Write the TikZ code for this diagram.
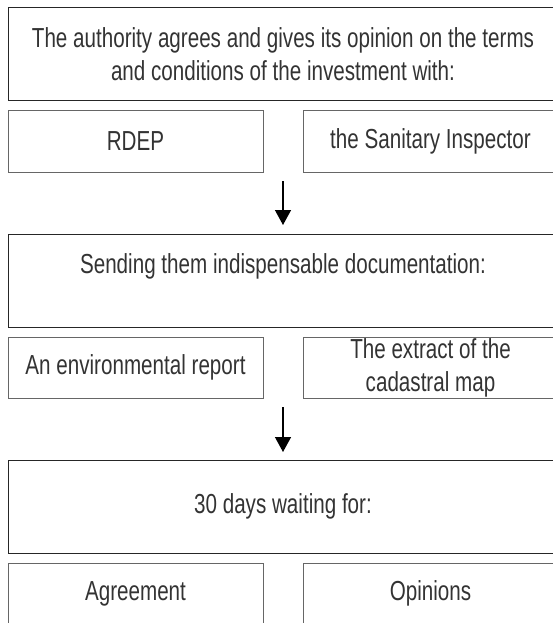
\documentclass[tikz,border=0pt]{standalone}
\usepackage{fontspec}
\setmainfont{Liberation Sans}[FakeStretch=0.75]
\usetikzlibrary{positioning,arrows.meta}

\tikzset{
  bigbox/.style={rectangle,draw=black!85,line width=1pt,minimum width=550pt,
    minimum height=93pt,inner sep=0pt,outer sep=0pt,align=center,text=black!80,
    font=\fontsize{27.5pt}{33pt}\selectfont},
  smallbox/.style={rectangle,draw=black!60,line width=1pt,minimum width=255pt,
    minimum height=61pt,inner sep=0pt,outer sep=0pt,align=center,text=black!80,
    font=\fontsize{27.5pt}{33pt}\selectfont},
  flow/.style={line width=1.4pt,-{Triangle[width=16pt,length=15pt]}}
}

\begin{document}
\begin{tikzpicture}
\useasboundingbox (0,0) rectangle (552pt,-623pt);

% first step
\node[bigbox](auth) at (283pt,-54.5pt){The authority agrees and gives its opinion on the terms\\and conditions of the investment with:};
\node[smallbox](rdep)[below right=10pt and 0pt of auth.south west]{RDEP};
\node[smallbox](inspector)[below left=10pt and 0pt of auth.south east]{the Sanitary Inspector};

% second step
\node[bigbox](send)[below=133pt of auth]{Sending them indispensable documentation:\\~};
\node[smallbox](report)[below right=10pt and 0pt of send.south west]{An environmental report};
\node[smallbox](extract)[below left=10pt and 0pt of send.south east]{The extract of the\\cadastral map};

% third step
\node[bigbox](wait)[below=133pt of send]{30 days waiting for:};
\node[smallbox](agree)[below right=10pt and 0pt of wait.south west]{Agreement};
\node[smallbox](opinion)[below left=10pt and 0pt of wait.south east]{Opinions};

\draw[flow]([yshift=-9pt]rdep.south -| send.north)--([yshift=9pt]send.north);
\draw[flow]([yshift=-9pt]report.south -| wait.north)--([yshift=8pt]wait.north);

\end{tikzpicture}
\end{document}
